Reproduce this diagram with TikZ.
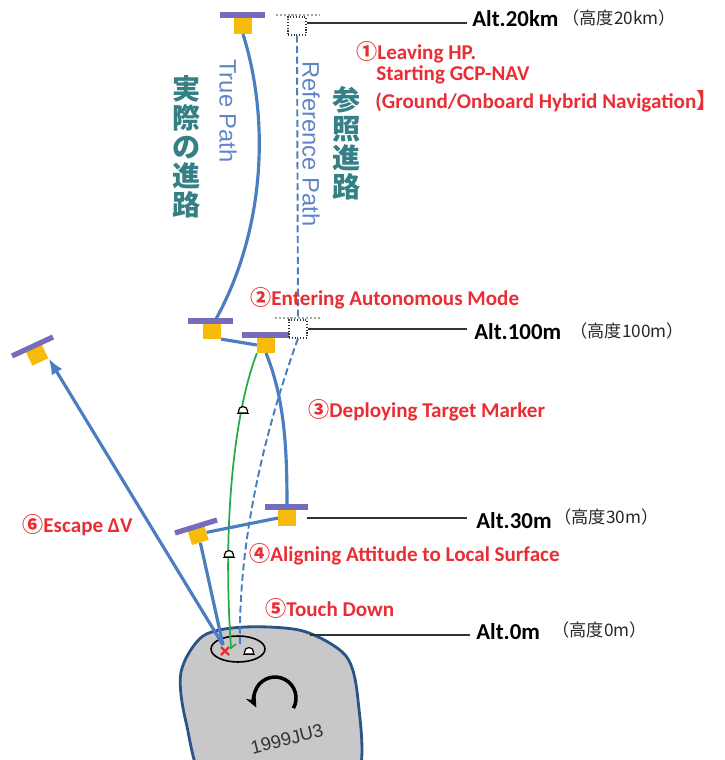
\documentclass[tikz,border=0pt]{standalone}
\usepackage{fontspec}
\setmainfont{Carlito}
\newfontfamily\jpfont{Noto Sans CJK JP}
\newfontfamily\pathfont{Liberation Sans}
\usepackage{tikz}
\usetikzlibrary{arrows.meta}

\definecolor{pathblue}{RGB}{74,126,193}
\definecolor{barpurple}{RGB}{118,108,186}
\definecolor{craftyellow}{RGB}{247,187,12}
\definecolor{notered}{RGB}{232,46,52}
\definecolor{jpteal}{RGB}{52,128,134}
\definecolor{labelblue}{RGB}{96,132,200}
\definecolor{rockgray}{RGB}{200,200,202}
\definecolor{rockline}{RGB}{42,84,134}
\definecolor{descentgreen}{RGB}{40,170,70}

\tikzset{
  craftbar/.style={line width=3pt, barpurple},
  craftbox/.style={fill=craftyellow, minimum width=0.35cm, minimum height=0.31cm, inner sep=0pt},
  refbar/.style={line width=1.2pt, gray!70, densely dotted},
  refbox/.style={draw=black!80, densely dotted, line width=0.6pt, minimum size=0.36cm, inner sep=0pt},
  truepath/.style={line width=1.8pt, pathblue},
  refpath/.style={line width=1.1pt, pathblue, dash pattern=on 4pt off 2pt},
  altline/.style={line width=1pt, black!80},
  altlabel/.style={anchor=west, inner sep=0pt, font=\bfseries\fontsize{13}{15}\selectfont},
  altjp/.style={anchor=west, inner sep=0pt, text=black!85, font=\jpfont\fontsize{9.8}{12}\selectfont},
  steplabel/.style={anchor=west, inner sep=0pt, text=notered, font=\bfseries\fontsize{12}{14}\selectfont},
  pathlabel/.style={rotate=-90, text=labelblue, font=\pathfont\fontsize{13.5}{15}\selectfont},
  jplabel/.style={align=center, text=jpteal, font=\jpfont\bfseries\fontsize{16}{16.5}\selectfont},
  tmarker/.pic={
    \draw[black, fill=white, line width=0.7pt] (-4.5,1) -- (-4.5,-1) arc (180:360:4.5) -- (4.5,1) -- cycle;
    \draw[black, line width=0.9pt] (-6,1.5) -- (6,1.5);
  }
}

\begin{document}
\begin{tikzpicture}[x=0.02cm, y=-0.02cm]
\useasboundingbox (0,0) rectangle (724,760);

\begin{scope}
\clip (0,0) rectangle (724,760);
\draw[fill=rockgray, draw=rockline, line width=1.6pt] plot[smooth cycle] coordinates {(181,672) (203,636) (245,627) (303,631) (346,656) (358,700) (358,775) (300,805) (210,790) (186,722)};
\end{scope}
\draw[black, line width=0.9pt] (238,649) ellipse (27 and 13);
\draw[-{Stealth[length=7pt, width=6pt]}, black, line width=2pt] (293.4,708.2) arc (29:-207:21);
\node[rotate=14, text=black!80, font=\pathfont\fontsize{10.5}{12}\selectfont] (rock) at (287,739) {1999JU3};

\node[craftbox] (top) at (243,26) {};
\draw[craftbar] (220,15) -- (265,15);
\draw[refbar] (276,15) -- (320,15);
\node[refbox] (topref) at (297,26) {};

\node[craftbox] (craftA100) at (212,331) {};
\draw[craftbar] (188,321) -- (233,321);
\node[craftbox] (craftB100) at (266,345) {};
\draw[craftbar] (242,335) -- (289,335);
\draw[refbar] (275,318) -- (320,318);
\node[refbox] (ref100) at (298,329) {};

\node[craftbox] (craftB30) at (287,518) {};
\draw[craftbar] (265,507) -- (308,507);
\node[craftbox, rotate=17] (craftA30) at (198,535) {};
\draw[craftbar] (175,533) -- (217,520);

\node[craftbox, rotate=25] (craftEsc) at (37,355) {};
\draw[craftbar] (12,356) -- (53,337);

\coordinate (td) at (223,645);
\coordinate (tdref) at (240,646);
\coordinate (tdgreen) at (231,648);

\draw[truepath] (top.south) .. controls (270,120) and (265,230) .. (216,319);
\draw[refpath] (topref.south) -- (ref100.north);
\draw[truepath] (craftA100.south east) -- (craftB100.west);
\draw[truepath] (craftB100.south) .. controls (285,400) and (287,450) .. (287,507);
\draw[refpath] (ref100.south) .. controls (265,430) and (238,540) .. (tdref);
\draw[descentgreen, line width=1pt] (craftB100.south west) .. controls (235,410) and (222,520) .. (tdgreen) -- (236,644);
\draw[truepath] (craftA30.east) -- (craftB30.west);
\draw[truepath] (craftA30.south) -- (td);
\draw[truepath, -{Latex[length=9pt, width=7pt]}] (td) -- (craftEsc.south east);

\draw[notered, line width=1.3pt] (221,647) -- (229,655) (229,647) -- (221,655);
\pic at (243,412) {tmarker};
\pic at (229,556) {tmarker};
\pic at (249,653) {tmarker};

\node[pathlabel] (truelbl) at (228,111) {True Path};
\node[pathlabel] (reflbl) at (311,144) {Reference Path};
\node[jplabel] (truejp) at (187,147) {実\\際\\の\\進\\路};
\node[jplabel] (refjp) at (347,143) {参\\照\\進\\路};

\coordinate (alt20) at (467,23);
\coordinate (alt100) at (467,329);
\coordinate (alt30) at (467,518);
\coordinate (alt0) at (470,635);
\draw[altline] (topref.east |- alt20) -- (alt20);
\draw[altline] (ref100.east |- alt100) -- (alt100);
\draw[altline] ([xshift=6pt]craftB30.east |- alt30) -- (alt30);
\draw[altline] (310,635) -- (alt0);

\node[altlabel] (alt20lbl) at (472,19) {Alt.20km};
\node[altjp] (alt20jp) at (562,18) {（高度20km）};
\node[altlabel] (alt100lbl) at (474,332) {Alt.100m};
\node[altjp] (alt100jp) at (570,331) {（高度100m）};
\node[altlabel] (alt30lbl) at (476,521) {Alt.30m};
\node[altjp] (alt30jp) at (554,517) {（高度30m）};
\node[altlabel] (alt0lbl) at (476,632) {Alt.0m};
\node[altjp] (alt0jp) at (552,630) {（高度0m）};

\node[steplabel] (step1) at (356,52) {{\jpfont ①}Leaving HP.};
\node[steplabel] (step1b) at (376,75) {Starting GCP-NAV};
\node[steplabel] (step1c) at (375,101) {(Ground/Onboard Hybrid Navigation{\jpfont 】}};
\node[steplabel] (step2) at (250,298) {{\jpfont ②}Entering Autonomous Mode};
\node[steplabel] (step3) at (308,410) {{\jpfont ③}Deploying Target Marker};
\node[steplabel] (step4) at (249,554) {{\jpfont ④}Aligning Attitude to Local Surface};
\node[steplabel] (step5) at (265,608) {{\jpfont ⑤}Touch Down};
\node[steplabel] (step6) at (22,525) {{\jpfont ⑥}Escape ΔV};
\end{tikzpicture}
\end{document}
